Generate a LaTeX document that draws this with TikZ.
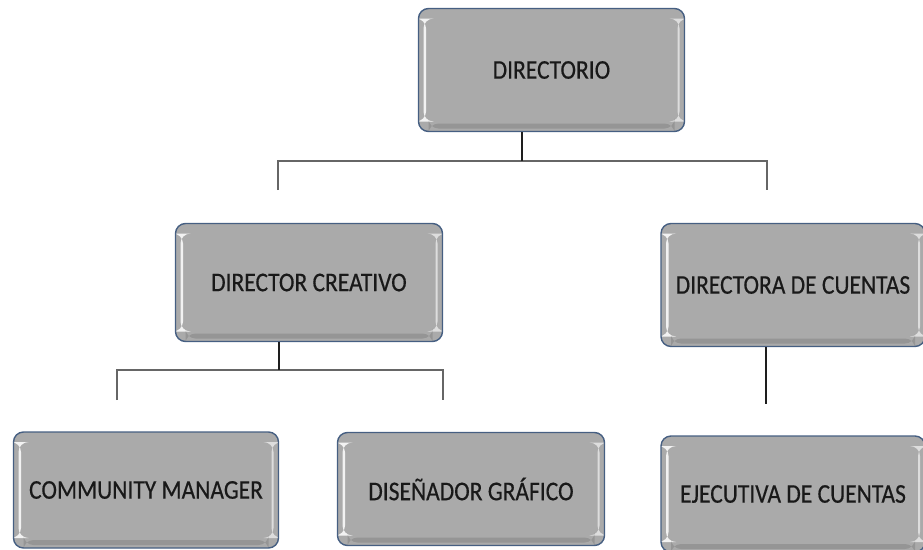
\documentclass[tikz,border=0pt]{standalone}
\usepackage{fontspec}
\usepackage{graphicx}
\setmainfont{Carlito}[FakeBold=0.5]
\definecolor{boxfill}{RGB}{170,170,170}
\definecolor{boxedge}{RGB}{70,95,130}
\definecolor{lineclr}{RGB}{30,30,30}
\newcommand\boxtxt[1]{\scalebox{1}[1.15]{#1}}
\tikzset{
  orgbox/.style={draw=boxedge, line width=1.4pt, fill=boxfill, rounded corners=10pt,
    font=\fontsize{23.5}{26}\selectfont, text=black!90, inner sep=0pt,
    path picture={
      \fill[white,opacity=0.85] ([xshift=5pt,yshift=-10pt]path picture bounding box.north west) rectangle ([xshift=7.5pt,yshift=10pt]path picture bounding box.south west);
      \fill[white,opacity=0.6] ([xshift=-5pt,yshift=-10pt]path picture bounding box.north east) rectangle ([xshift=-7pt,yshift=10pt]path picture bounding box.south east);
      \fill[black,opacity=0.12] ([xshift=10pt,yshift=8pt]path picture bounding box.south west) rectangle ([xshift=-10pt,yshift=3pt]path picture bounding box.south east);
    }},
  conn/.style={draw=lineclr, line width=1.4pt},
  bar/.style={draw=black!60, line width=1.6pt}
}
\begin{document}
\begin{tikzpicture}[x=1pt,y=-1pt]
\useasboundingbox (0,0) rectangle (923,549);
% boxes
\node[orgbox, minimum width=266pt, minimum height=123pt] (dir) at (551.5,70) {\boxtxt{DIRECTORIO}};
\node[orgbox, minimum width=267pt, minimum height=118pt] (dc) at (309,282.5) {\boxtxt{DIRECTOR CREATIVO}};
\node[orgbox, minimum width=264pt, minimum height=123pt] (dcu) at (793,285) {\boxtxt{DIRECTORA DE CUENTAS}};
\node[orgbox, minimum width=265pt, minimum height=116pt] (cm) at (146,490) {\boxtxt{COMMUNITY MANAGER}};
\node[orgbox, minimum width=267pt, minimum height=113pt] (dis) at (471,489) {\boxtxt{DISEÑADOR GRÁFICO}};
\node[orgbox, minimum width=264pt, minimum height=116pt] (ej) at (793,494) {\boxtxt{EJECUTIVA DE CUENTAS}};
% connector end points
\coordinate (j1) at (522,161);
\coordinate (l1) at (278,161);
\coordinate (r1) at (767,161);
\coordinate (l1e) at (278,190);
\coordinate (r1e) at (767,190);
\coordinate (j2) at (279,370);
\coordinate (l2) at (117,370);
\coordinate (r2) at (443,370);
\coordinate (l2e) at (117,400);
\coordinate (r2e) at (443,400);
\coordinate (j3) at (766,404);
% connectors
\draw[bar] (l1e) -- (l1) -- (r1) -- (r1e);
\draw[conn] (dir.south -| j1) -- (j1);
\draw[bar] (l2e) -- (l2) -- (r2) -- (r2e);
\draw[conn] (dc.south -| j2) -- (j2);
\draw[conn] (dcu.south -| j3) -- (j3);
\end{tikzpicture}
\end{document}
